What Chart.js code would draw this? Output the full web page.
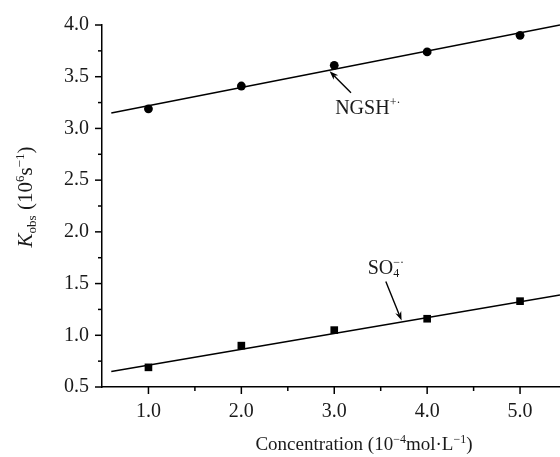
<!DOCTYPE html>
<html>
<head>
<meta charset="utf-8">
<script src="https://cdn.jsdelivr.net/npm/chart.js@4"></script>
<style>
  html, body { margin: 0; padding: 0; background: #fff; }
  #wrap { width: 560px; height: 457px; }
</style>
</head>
<body>
<div id="wrap"><canvas id="c" width="560" height="457"></canvas></div>
<script>
// ---- data ----
const concentration = [1.0, 2.0, 3.0, 4.0, 5.0];
const kNGSH = [3.19, 3.41, 3.61, 3.74, 3.90];
const kSO4 = [0.69, 0.90, 1.05, 1.16, 1.33];
const fitX = [0.6, 5.43];
const fitNGSH = [3.15, 4.00];
const fitSO4 = [0.65, 1.39];
const xTickValues = [1.0, 2.0, 3.0, 4.0, 5.0];
const yTickValues = [0.5, 1.0, 1.5, 2.0, 2.5, 3.0, 3.5, 4.0];

const SERIF = "'Liberation Serif', 'Times New Roman', serif";
const INK = '#1a1a1a';

const pts = (xs, ys) => xs.map((x, i) => ({ x: x, y: ys[i] }));

// annotation anchors in data space
const annotations = [
  { tail: [3.18, 3.345], tip: [2.95, 3.553], label: [3.01, 3.137], kind: 'ngsh' },
  { tail: [3.555, 1.521], tip: [3.725, 1.143], label: [3.36, 1.595], kind: 'so4' }
];

function drawRich(ctx, segs, x, y, align) {
  let widths = [];
  let total = 0;
  segs.forEach((s) => {
    ctx.font = (s.italic ? 'italic ' : '') + s.size + 'px ' + SERIF;
    const w = ctx.measureText(s.t).width;
    widths.push(w);
    if (!s.stack) total += w;
  });
  let cx = align === 'center' ? x - total / 2 : x;
  let lastX = cx;
  segs.forEach((s, i) => {
    ctx.font = (s.italic ? 'italic ' : '') + s.size + 'px ' + SERIF;
    const px = s.stack ? lastX : cx;
    ctx.fillText(s.t, px + (s.dx || 0), y + (s.dy || 0));
    if (!s.stack) { lastX = cx; cx += widths[i]; }
  });
}

const decor = {
  id: 'decor',
  afterDraw(chart) {
    const ctx = chart.ctx;
    const xs = chart.scales.x, ys = chart.scales.y;
    const ca = chart.chartArea;
    ctx.save();
    ctx.strokeStyle = '#000';
    ctx.lineWidth = 1.5;
    for (let v = ys.min; v <= ys.max + 1e-9; v += 0.25) {
      const major = Math.abs(v * 2 - Math.round(v * 2)) < 1e-6;
      const py = ys.getPixelForValue(v);
      ctx.beginPath();
      ctx.moveTo(ca.left, py);
      ctx.lineTo(ca.left - (major ? 7 : 4), py);
      ctx.stroke();
    }
    for (let v = 1.0; v <= xs.max + 1e-9; v += 0.5) {
      const major = Math.abs(v - Math.round(v)) < 1e-6;
      const px = xs.getPixelForValue(v);
      ctx.beginPath();
      ctx.moveTo(px, ca.bottom);
      ctx.lineTo(px, ca.bottom + (major ? 7 : 4));
      ctx.stroke();
    }
    ctx.fillStyle = INK;
    ctx.textBaseline = 'alphabetic';
    ctx.textAlign = 'left';
    // x axis title
    drawRich(ctx, [
      { t: 'Concentration (10', size: 19 },
      { t: '\u2212', size: 12, dy: -7 },
      { t: '4', size: 12, dy: -7 },
      { t: 'mol\u00b7L', size: 19 },
      { t: '\u2212', size: 12, dy: -7 },
      { t: '1', size: 12, dy: -7 },
      { t: ')', size: 19 }
    ], xs.getPixelForValue(3.32), 450, 'center');
    // y axis title
    ctx.save();
    ctx.translate(32, 197);
    ctx.rotate(-Math.PI / 2);
    drawRich(ctx, [
      { t: 'K', size: 21, italic: true },
      { t: 'obs', size: 13, dy: 4 },
      { t: ' (10', size: 21 },
      { t: '6', size: 13, dy: -8 },
      { t: 's', size: 21 },
      { t: '\u2212', size: 13, dy: -8 },
      { t: '1', size: 13, dy: -8 },
      { t: ')', size: 21 }
    ], 0, 0, 'center');
    ctx.restore();
    // annotations
    annotations.forEach(a => {
      const tx = xs.getPixelForValue(a.tail[0]), ty = ys.getPixelForValue(a.tail[1]);
      const hx = xs.getPixelForValue(a.tip[0]), hy = ys.getPixelForValue(a.tip[1]);
      const ang = Math.atan2(hy - ty, hx - tx);
      const hl = 9, hw = 3.2;
      ctx.strokeStyle = '#000';
      ctx.lineWidth = 1.4;
      ctx.beginPath();
      ctx.moveTo(tx, ty);
      ctx.lineTo(hx - Math.cos(ang) * hl * 0.7, hy - Math.sin(ang) * hl * 0.7);
      ctx.stroke();
      ctx.fillStyle = '#000';
      ctx.beginPath();
      ctx.moveTo(hx, hy);
      ctx.lineTo(hx - Math.cos(ang) * hl - Math.sin(ang) * hw, hy - Math.sin(ang) * hl + Math.cos(ang) * hw);
      ctx.lineTo(hx - Math.cos(ang) * hl * 0.7, hy - Math.sin(ang) * hl * 0.7);
      ctx.lineTo(hx - Math.cos(ang) * hl + Math.sin(ang) * hw, hy - Math.sin(ang) * hl - Math.cos(ang) * hw);
      ctx.closePath();
      ctx.fill();
      ctx.fillStyle = INK;
      const lx = xs.getPixelForValue(a.label[0]), ly = ys.getPixelForValue(a.label[1]);
      if (a.kind === 'ngsh') {
        drawRich(ctx, [
          { t: 'NGSH', size: 20 },
          { t: '+\u00b7', size: 12, dy: -8 }
        ], lx, ly, 'left');
      } else {
        drawRich(ctx, [
          { t: 'SO', size: 20 },
          { t: '4', size: 12, dy: 3 },
          { t: '\u2212\u00b7', size: 12, dy: -8, stack: true }
        ], lx, ly, 'left');
      }
    });
    ctx.restore();
  }
};

new Chart(document.getElementById('c'), {
  type: 'scatter',
  data: {
    datasets: [
      {
        label: 'NGSH fit', type: 'line', data: pts(fitX, fitNGSH),
        borderColor: '#000', borderWidth: 1.5, pointRadius: 0, fill: false, tension: 0
      },
      {
        label: 'SO4 fit', type: 'line', data: pts(fitX, fitSO4),
        borderColor: '#000', borderWidth: 1.5, pointRadius: 0, fill: false, tension: 0
      },
      {
        label: 'NGSH+', data: pts(concentration, kNGSH),
        pointStyle: 'circle', pointRadius: 4.4, backgroundColor: '#000', borderColor: '#000', borderWidth: 0
      },
      {
        label: 'SO4-', data: pts(concentration, kSO4),
        pointStyle: 'rect', pointRadius: 5.4, backgroundColor: '#000', borderColor: '#000', borderWidth: 0
      }
    ]
  },
  options: {
    responsive: false,
    animation: false,
    clip: false,
    layout: { autoPadding: false, padding: { top: 22, right: 0, left: 0, bottom: 0 } },
    plugins: { legend: { display: false }, tooltip: { enabled: false } },
    scales: {
      x: {
        type: 'linear', min: 0.5, max: 5.43,
        grid: { display: false, drawTicks: false },
        border: { display: true, color: '#000', width: 1.5 },
        ticks: {
          font: { family: SERIF, size: 20 }, color: INK, padding: 13,
          callback: v => Number(v).toFixed(1)
        },
        afterBuildTicks: s => { s.ticks = xTickValues.map(v => ({ value: v })); },
        afterFit: s => { s.height = 70; }
      },
      y: {
        type: 'linear', min: 0.5, max: 4.0,
        grid: { display: false, drawTicks: false },
        border: { display: true, color: '#000', width: 1.5 },
        ticks: {
          font: { family: SERIF, size: 20 }, color: INK, padding: 13,
          callback: v => Number(v).toFixed(1)
        },
        afterBuildTicks: s => { s.ticks = yTickValues.map(v => ({ value: v })); },
        afterFit: s => { s.width = 102; }
      }
    }
  },
  plugins: [decor]
});
</script>
</body>
</html>
